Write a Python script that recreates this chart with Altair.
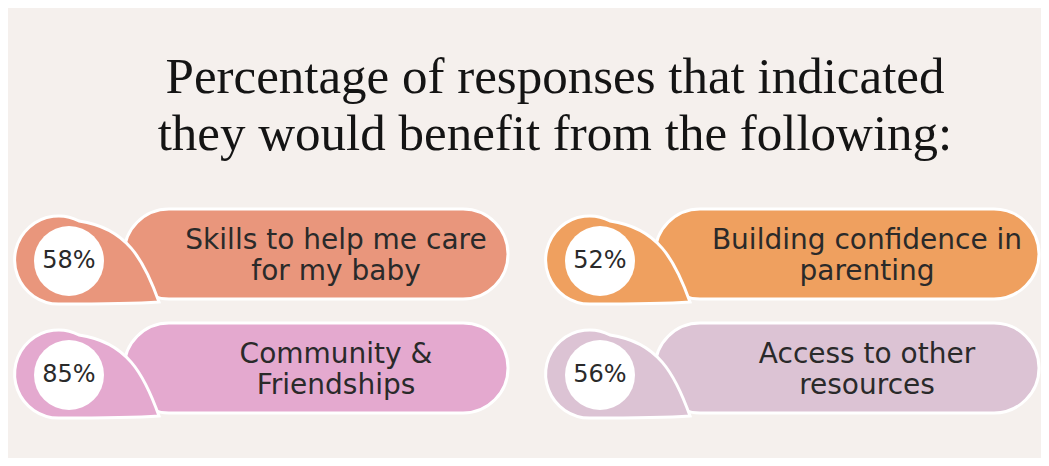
import altair as alt
import pandas as pd

# ---- content ----
TITLE_LINES = ["Percentage of responses that indicated",
               "they would benefit from the following:"]
LABELS = ["Skills to help me care\nfor my baby",
          "Building confidence in\nparenting",
          "Community &\nFriendships",
          "Access to other\nresources"]
VALUES = [58, 52, 85, 56]
GRID_COL = [0, 1, 0, 1]
GRID_ROW = [0, 0, 1, 1]
PALETTE = ["#E9967C", "#EFA05F", "#E4A9CF", "#DCC3D4"]

# ---- layout (chart pixel units) ----
W, H = 1033, 450
COL_STEP, ROW_STEP = 531, 114
X0, Y0 = 6, 246

df = pd.DataFrame({"label": LABELS, "value": VALUES, "col": GRID_COL, "row": GRID_ROW})
df["pct"] = df["value"].astype(str) + "%"
ox = X0 + COL_STEP * df["col"]
oy = Y0 + ROW_STEP * df["row"]
df["px1"], df["px2"] = ox + 110, ox + 494
df["py1"], df["py2"] = oy - 45, oy + 45
df["cx"], df["cy"] = ox + 45, oy + 6
df["ix"], df["iy"] = ox + 55, oy + 7
df["lx"], df["ly"] = ox + 322, oy - 13

title_df = pd.DataFrame({"line": ["\n".join(TITLE_LINES)]})
title_df["tx"] = 547
title_df["ty"] = 85

xs = alt.Scale(domain=[0, W], nice=False, zero=False)
ys = alt.Scale(domain=[0, H], nice=False, zero=False, reverse=True)
col_enc = alt.Color("label:N", scale=alt.Scale(domain=LABELS, range=PALETTE), legend=None)

TEAR = "M 20 -39 C 68 -32 85 0 100 42 C 70 44 30 44 0 44 A 44 44 0 1 1 20 -39 Z"
INNER_R = 35

base = alt.Chart(df)

pill = base.mark_rect(cornerRadius=45, stroke="white", strokeWidth=3).encode(
    x=alt.X("px1:Q", scale=xs, axis=None), x2="px2:Q",
    y=alt.Y("py1:Q", scale=ys, axis=None), y2="py2:Q",
    color=col_enc)

tear = base.mark_point(shape=TEAR, filled=True, size=4, stroke="white",
                       strokeWidth=3, opacity=1).encode(
    x=alt.X("cx:Q", scale=xs, axis=None),
    y=alt.Y("cy:Q", scale=ys, axis=None),
    color=col_enc)

inner = base.mark_circle(size=(2 * INNER_R) ** 2, color="white", opacity=1).encode(
    x=alt.X("ix:Q", scale=xs, axis=None),
    y=alt.Y("iy:Q", scale=ys, axis=None))

pct = base.mark_text(font="DejaVu Sans", fontSize=24, color="#2a2a2a",
                     align="center", baseline="middle").encode(
    x=alt.X("ix:Q", scale=xs, axis=None),
    y=alt.Y("iy:Q", scale=ys, axis=None),
    text="pct:N")

lab = base.mark_text(font="DejaVu Sans", fontSize=28, lineHeight=31, lineBreak="\n",
                     color="#2a2a2a", align="center", baseline="middle").encode(
    x=alt.X("lx:Q", scale=xs, axis=None),
    y=alt.Y("ly:Q", scale=ys, axis=None),
    text="label:N")

title = alt.Chart(title_df).mark_text(font="Liberation Serif", fontSize=51,
                                      lineHeight=57, lineBreak="\n",
                                      color="#141414", align="center",
                                      baseline="alphabetic").encode(
    x=alt.X("tx:Q", scale=xs, axis=None),
    y=alt.Y("ty:Q", scale=ys, axis=None),
    text="line:N")

chart = alt.layer(pill, tear, inner, pct, lab, title).properties(
    width=W, height=H, background="#F5F0ED", padding=0, autosize="none"
).configure_view(stroke=None)

chart.save("out.html", embed_options={"renderer": "svg", "actions": False})
